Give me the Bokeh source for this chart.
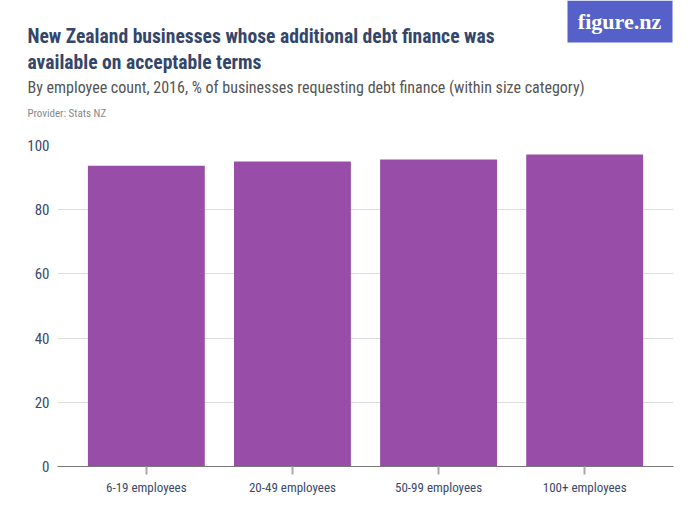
from bokeh.plotting import figure
from bokeh.models import Label, FactorRange, Range1d, BoxAnnotation
from bokeh.layouts import column, row
from bokeh.embed import file_html
from bokeh.resources import INLINE

categories = ["6-19 employees", "20-49 employees", "50-99 employees", "100+ employees"]
values = [93.7, 95.0, 95.6, 97.2]
y_ticks = [0, 20, 40, 60, 80, 100]

title_lines = ["New Zealand businesses whose additional debt finance was",
               "available on acceptable terms"]
subtitle = "By employee count, 2016, % of businesses requesting debt finance (within size category)"
provider = "Provider: Stats NZ"

W = 684
HT = 125          # header height
HC = 384          # chart height
ML, MR, MT, MB = 57, 11, 20, 43

NARROW = "'Liberation Sans Narrow', 'Roboto Condensed', Roboto"

# ---------- header ----------
h = figure(width=W, height=HT, x_range=Range1d(0, W), y_range=Range1d(HT, 0),
           output_backend="svg", toolbar_location=None,
           x_axis_location=None, y_axis_location=None,
           min_border=0, min_border_left=0, min_border_right=0,
           min_border_top=0, min_border_bottom=0)
h.outline_line_color = None
h.xgrid.visible = False
h.ygrid.visible = False

def lab(text, x, y, size, color, style="normal", font=NARROW):
    h.add_layout(Label(x=x, y=y, text=text, text_font=font, text_font_size=size,
                       text_color=color, text_font_style=style,
                       text_baseline="top", text_align="left"))

lab(title_lines[0], 27, 24, "19.6px", "#34466b", "bold")
lab(title_lines[1], 27, 50, "19.6px", "#34466b", "bold")
lab(subtitle, 27, 77, "16px", "#555555")
lab(provider, 27, 106, "11px", "#888888")

h.add_layout(BoxAnnotation(left=567, right=672, top=0, bottom=42,
                           fill_color="#5560c8", fill_alpha=1.0, line_color=None))
h.add_layout(Label(x=619, y=21, text="figure.nz", text_font="'Liberation Serif'",
                   text_font_size="22px", text_color="white", text_font_style="bold",
                   text_baseline="middle", text_align="center"))

# ---------- chart ----------
p = figure(width=W, height=HC,
           x_range=FactorRange(*categories, range_padding=0.108, range_padding_units="absolute"),
           y_range=Range1d(0, 100), output_backend="svg", toolbar_location=None,
           min_border_left=ML, min_border_right=MR, min_border_top=MT, min_border_bottom=MB)
p.outline_line_color = None

p.vbar(x=categories, top=values, width=0.8, color="#984ea9", line_color=None)

p.xgrid.grid_line_color = None
p.ygrid.grid_line_color = "#dddddd"
p.ygrid.ticker = y_ticks
p.yaxis.ticker = y_ticks
p.yaxis.axis_line_color = None
p.yaxis.major_tick_line_color = None
p.yaxis.minor_tick_line_color = None
p.yaxis.major_tick_out = 0
p.yaxis.major_tick_in = 0
p.yaxis.major_label_text_font = NARROW
p.yaxis.major_label_text_font_size = "15px"
p.yaxis.major_label_text_color = "#3b4a6b"
p.yaxis.major_label_standoff = 8

p.xaxis.axis_line_color = "#777777"
p.xaxis.axis_line_width = 1.2
p.xaxis.major_tick_line_color = "#aaaaaa"
p.xaxis.major_tick_line_width = 2
p.xaxis.major_tick_out = 8
p.xaxis.major_tick_in = 0
p.xaxis.major_label_text_font = NARROW
p.xaxis.major_label_text_font_size = "13px"
p.xaxis.major_label_text_color = "#3b4a6b"
p.xaxis.major_label_standoff = 5

layout = column(row(h), row(p), spacing=0)
open("out.html", "w").write(file_html(layout, INLINE))
